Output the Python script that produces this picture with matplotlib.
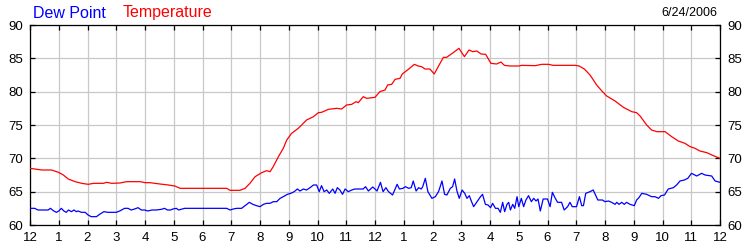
import numpy as np
import matplotlib
matplotlib.use("Agg")
import matplotlib.pyplot as plt

# readings for 6/24/2006, hours since midnight
temp_hours = [0, 0.41, 0.75, 0.99, 1.16, 1.33, 1.57, 1.8, 2.03, 2.2, 2.55, 2.67, 2.84,
              3.13, 3.36, 3.83, 4.0, 4.17, 4.52, 4.81, 5.04, 5.22, 6.84, 6.96, 7.3,
              7.48, 7.65, 7.83, 8.06, 8.23, 8.35, 8.46, 8.64, 8.81, 8.93, 9.1, 9.33,
              9.45, 9.62, 9.86, 10.03, 10.14, 10.38, 10.67, 10.84, 11.01, 11.19, 11.34,
              11.42, 11.59, 11.71, 12.0, 12.17, 12.35, 12.44, 12.58, 12.7, 12.87, 12.95,
              13.16, 13.37, 13.5, 13.62, 13.74, 13.91, 14.06, 14.23, 14.38, 14.49, 14.72,
              14.92, 15.11, 15.27, 15.4, 15.54, 15.69, 15.85, 16.03, 16.23, 16.38, 16.5,
              16.7, 17.0, 17.1, 17.57, 17.8, 18.03, 18.2, 18.96, 19.1, 19.28, 19.48,
              19.71, 19.88, 20.06, 20.35, 20.64, 20.93, 21.1, 21.22, 21.45, 21.62, 21.8,
              22.09, 22.32, 22.55, 22.78, 22.96, 23.13, 23.3, 23.54, 23.77, 24.0]
temp_vals = [68.5, 68.25, 68.25, 67.9, 67.5, 66.9, 66.5, 66.25, 66.1, 66.25, 66.25, 66.4, 66.25,
             66.3, 66.5, 66.5, 66.35, 66.35, 66.15, 66.0, 65.85, 65.5, 65.5, 65.2, 65.2,
             65.5, 66.25, 67.25, 67.85, 68.15, 68.0, 68.75, 70.25, 71.5, 72.75, 73.75, 74.5,
             75.0, 75.75, 76.25, 76.85, 76.9, 77.35, 77.5, 77.4, 78.0, 78.1, 78.5,
             78.35, 79.25, 79.0, 79.15, 80.0, 80.25, 81.0, 81.1, 81.85, 82.0, 82.65,
             83.35, 84.1, 83.85, 83.75, 83.4, 83.4, 82.65, 84.0, 85.15, 85.15, 85.85,
             86.5, 85.25, 86.25, 86.0, 86.1, 85.65, 85.6, 84.25, 84.15, 84.45, 83.95,
             83.85, 83.85, 83.95, 83.9, 84.1, 84.1, 83.95, 83.95, 83.85, 83.4, 82.5,
             81.0, 80.15, 79.35, 78.6, 77.65, 77.0, 76.85, 76.35, 75.0, 74.25, 74.0,
             74.0, 73.25, 72.6, 72.25, 71.75, 71.5, 71.1, 70.85, 70.4, 70.0]

dew_hours = [0, 0.16, 0.28, 0.63, 0.71, 0.83, 0.92, 1.0, 1.09, 1.18, 1.26, 1.34, 1.44, 1.53,
             1.61, 1.67, 1.79, 1.92, 2.02, 2.13, 2.31, 2.42, 2.57, 2.71, 3.0, 3.12, 3.29,
             3.41, 3.52, 3.64, 3.76, 3.87, 3.99, 4.1, 4.24, 4.39, 4.57, 4.68, 4.78, 4.89,
             4.97, 5.09, 5.17, 5.26, 5.38, 6.0, 6.84, 6.96, 7.07, 7.19, 7.36, 7.48, 7.63,
             7.75, 7.88, 8.0, 8.12, 8.23, 8.35, 8.46, 8.58, 8.7, 8.81, 8.95, 9.07, 9.19,
             9.3, 9.39, 9.51, 9.62, 9.74, 9.86, 9.97, 10.06, 10.14, 10.23, 10.32, 10.41,
             10.53, 10.61, 10.69, 10.78, 10.87, 10.96, 11.07, 11.19, 11.3, 11.59, 11.67,
             11.77, 11.92, 12.0, 12.07, 12.19, 12.28, 12.38, 12.47, 12.61, 12.77, 12.85,
             12.97, 13.06, 13.17, 13.26, 13.33, 13.43, 13.52, 13.61, 13.66, 13.75, 13.84,
             13.98, 14.1, 14.21, 14.33, 14.42, 14.5, 14.62, 14.7, 14.77, 14.85, 14.93,
             15.03, 15.12, 15.2, 15.28, 15.35, 15.43, 15.55, 15.67, 15.74, 15.84, 15.93,
             16.02, 16.09, 16.19, 16.28, 16.36, 16.44, 16.51, 16.59, 16.65, 16.71, 16.79,
             16.86, 16.94, 17.0, 17.09, 17.17, 17.25, 17.34, 17.44, 17.52, 17.6, 17.67,
             17.75, 17.85, 18.0, 18.09, 18.17, 18.26, 18.35, 18.49, 18.58, 18.7, 18.78,
             18.86, 19.01, 19.11, 19.19, 19.25, 19.33, 19.48, 19.59, 19.75, 19.91, 20.0,
             20.12, 20.23, 20.35, 20.41, 20.49, 20.58, 20.67, 20.75, 20.87, 21.02, 21.1,
             21.18, 21.28, 21.45, 21.62, 21.74, 21.86, 21.95, 22.07, 22.2, 22.38, 22.49,
             22.61, 22.76, 22.88, 23.01, 23.19, 23.36, 23.48, 23.71, 23.83, 24.0]
dew_vals = [62.5, 62.5, 62.25, 62.25, 62.5, 62.1, 61.9, 62.1, 62.5, 62.1, 61.9, 62.25, 62.0, 62.25,
            62.0, 62.1, 61.9, 61.9, 61.5, 61.25, 61.25, 61.6, 62.0, 61.9, 61.9, 62.1, 62.5,
            62.5, 62.25, 62.4, 62.6, 62.25, 62.25, 62.1, 62.25, 62.25, 62.35, 62.5, 62.25, 62.25,
            62.4, 62.5, 62.25, 62.35, 62.5, 62.5, 62.5, 62.25, 62.4, 62.5, 62.5, 62.9, 63.4,
            63.1, 62.9, 62.75, 63.1, 63.25, 63.25, 63.5, 63.5, 64.0, 64.25, 64.6, 64.75, 65.0,
            65.4, 65.1, 65.4, 65.25, 65.6, 66.0, 66.0, 65.0, 65.9, 65.0, 65.25, 64.75,
            65.4, 64.75, 65.6, 65.25, 64.6, 65.4, 65.0, 65.25, 65.4, 65.4, 65.75,
            65.1, 65.7, 65.4, 65.1, 66.4, 65.0, 65.6, 65.0, 64.5, 66.1, 65.4,
            65.5, 65.75, 65.5, 65.6, 66.6, 65.1, 65.6, 65.4, 65.75, 67.0, 65.0,
            64.0, 64.25, 65.0, 66.6, 64.6, 64.5, 65.5, 65.75, 66.9, 65.1, 64.0,
            65.25, 64.75, 64.0, 64.4, 63.6, 62.75, 63.5, 64.25, 64.6, 63.1, 63.0,
            62.6, 63.25, 62.5, 62.5, 61.9, 63.4, 62.0, 63.1, 63.4, 62.25, 63.1,
            62.5, 64.25, 62.75, 64.0, 62.75, 63.75, 64.4, 63.5, 64.0, 63.6, 63.9,
            62.1, 63.9, 63.9, 62.75, 64.9, 64.1, 63.4, 63.4, 62.25, 62.75, 63.4,
            62.75, 62.75, 64.25, 62.9, 62.9, 64.75, 65.0, 65.25, 63.75, 63.75, 63.5,
            63.6, 63.4, 63.1, 63.4, 63.1, 63.4, 63.1, 63.4, 63.1, 62.9, 63.75,
            64.1, 64.75, 64.6, 64.25, 64.25, 64.0, 64.4, 64.5, 65.4, 65.6, 66.0,
            66.6, 66.75, 67.0, 67.75, 67.35, 67.75, 67.5, 67.35, 66.6, 66.4]

hour_ticks = list(range(0, 25))
hour_labels = ["12", "1", "2", "3", "4", "5", "6", "7", "8", "9", "10", "11",
               "12", "1", "2", "3", "4", "5", "6", "7", "8", "9", "10", "11", "12"]
y_ticks = [60, 65, 70, 75, 80, 85, 90]

plt.rcParams["font.family"] = ["Liberation Sans", "DejaVu Sans"]

fig = plt.figure(figsize=(7.5, 2.5), dpi=100)
ax = fig.add_axes([0.04, 0.1, 0.92, 0.8])

ax.plot(temp_hours, temp_vals, color="#ff0000", lw=0.9, zorder=3)
ax.plot(dew_hours, dew_vals, color="#0000ff", lw=0.9, zorder=3)

ax.set_xlim(0, 24)
ax.set_ylim(60, 90)
ax.set_xticks(hour_ticks)
ax.set_xticklabels(hour_labels)
ax.set_yticks(y_ticks)
ax.grid(True, color="#c8c8c8", lw=0.9, zorder=0)
ax.tick_params(axis="both", direction="in", length=3.6, width=0.9, color="black",
               labelsize=9.5, top=True, right=True, labelright=True)
ax.tick_params(axis="x", pad=5)
ax.tick_params(axis="y", pad=5)
for s in ax.spines.values():
    s.set_color("black")
    s.set_linewidth(0.9)

fig.text(0.044, 0.948, "Dew Point", color="#0000ff", fontsize=11.5, va="center")
fig.text(0.164, 0.948, "Temperature", color="#ff0000", fontsize=11.5, va="center")
fig.text(0.957, 0.948, "6/24/2006", color="black", fontsize=9, va="center", ha="right")

plt.savefig("out.png", dpi=100)
